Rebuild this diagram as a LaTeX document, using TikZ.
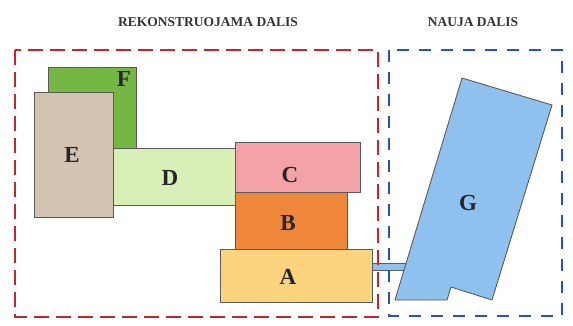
\documentclass[tikz,border=0pt]{standalone}
\usepackage{fontspec}
\setmainfont{Liberation Serif}
\definecolor{Fcol}{HTML}{74B843}
\definecolor{Ecol}{HTML}{D2C3B3}
\definecolor{Dcol}{HTML}{D8F0B8}
\definecolor{Ccol}{HTML}{F3A2A8}
\definecolor{Bcol}{HTML}{EE873A}
\definecolor{Acol}{HTML}{FCD47E}
\definecolor{Gcol}{HTML}{8FC1EE}
\definecolor{redline}{HTML}{C4262E}
\definecolor{blueline}{HTML}{2850C0}
\definecolor{edge}{HTML}{5A5A5A}
\begin{document}
\begin{tikzpicture}[x=1pt,y=-1pt,
  box/.style={draw=edge, line width=0.9pt, inner sep=0pt, outer sep=0pt},
  lbl/.style={font=\fontsize{23}{23}\selectfont\bfseries, text=black!85, inner sep=0pt},
  title/.style={font=\fontsize{13.5}{14}\selectfont\bfseries, text=black!80, inner sep=0pt},
  reddash/.style={draw=redline, line width=1.8pt, dash pattern=on 15pt off 7pt},
  bluedash/.style={draw=blueline, line width=1.8pt, dash pattern=on 12pt off 10pt}]
\useasboundingbox (0,0) rectangle (573,326);
\fill[white] (0,0) rectangle (573,326);
% titles
\node[title] (t1) at (208,22) {REKONSTRUOJAMA DALIS};
\node[title] (t2) at (473,22) {NAUJA DALIS};
% connector between A and G
\coordinate (c1) at (370,263);
\coordinate (c2) at (408,270);
\draw[fill=Gcol, draw=edge, line width=0.8pt] (c1) rectangle (c2);
% dashed frames
\draw[reddash] (15,50) rectangle (378,317);
\draw[bluedash] (389,50) rectangle (562,316);
% buildings
\draw[box, fill=Fcol] (48,67) rectangle (136,148);
\draw[box, fill=Dcol] (113,148) rectangle (235,205);
\draw[box, fill=Ecol] (34,92) rectangle (113,217);
\draw[box, fill=Bcol] (235,192) rectangle (347,249);
\draw[box, fill=Ccol] (235,142) rectangle (360,192);
\draw[box, fill=Acol] (220,249) rectangle (372,302);
\draw[box, fill=Gcol] (462,78) -- (552,105) -- (492,300) -- (451,287) -- (447,300) -- (395,300) -- cycle;
% labels
\node[lbl] (F) at (124,79) {F};
\node[lbl] (E) at (72,155) {E};
\node[lbl] (D) at (170,178) {D};
\node[lbl] (C) at (290,175) {C};
\node[lbl] (B) at (288,223) {B};
\node[lbl] (A) at (288,277) {A};
\node[lbl] (G) at (468,203) {G};
\end{tikzpicture}
\end{document}
